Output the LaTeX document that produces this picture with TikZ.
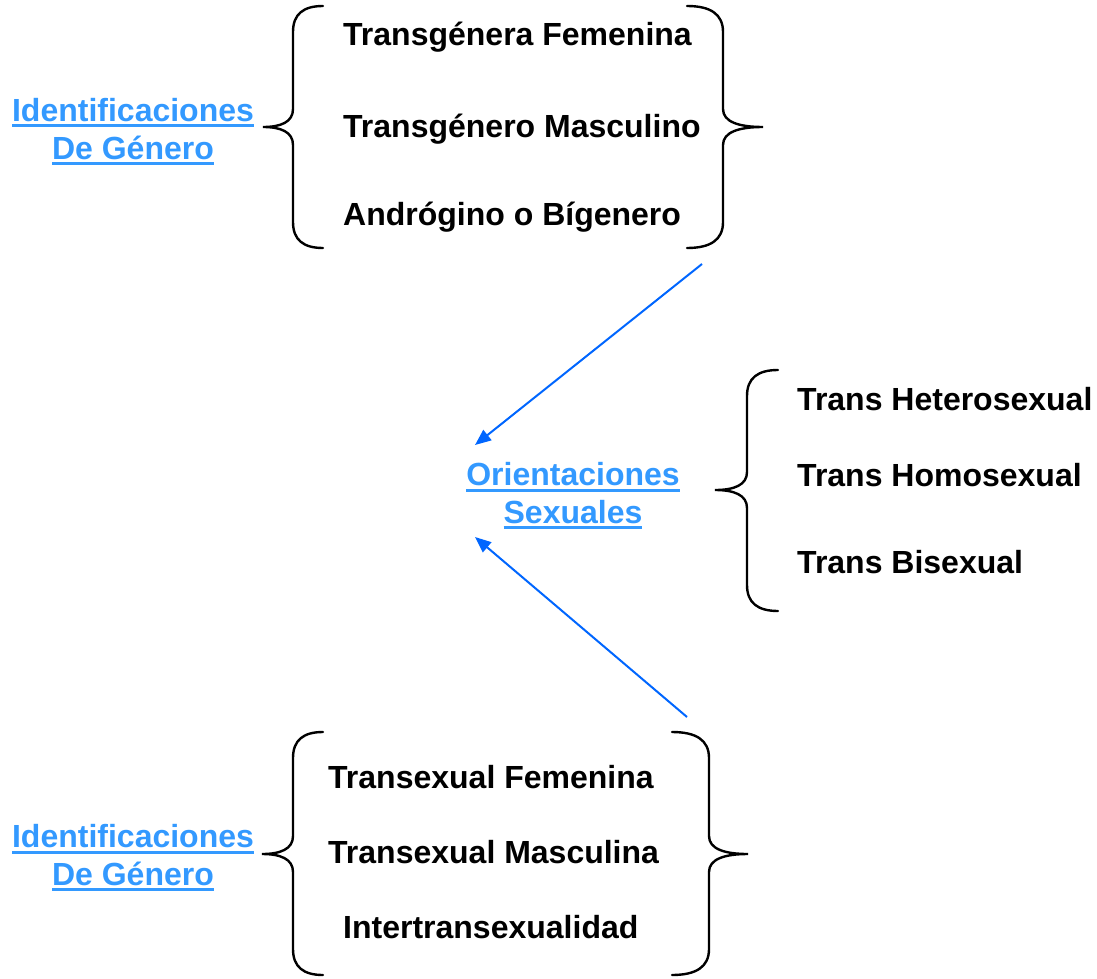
\documentclass[tikz,border=0pt]{standalone}
\usepackage{fontspec}
\setmainfont{Liberation Sans}
\usetikzlibrary{arrows.meta}

\definecolor{labelblue}{RGB}{51,153,255}
\definecolor{arrowblue}{RGB}{0,102,255}

% underline drawn as a rule under the box
\newcommand{\ulbar}[1]{\setbox0\hbox{#1}\rlap{\vrule height -3pt depth 6pt width \wd0}\box0}

% curly bracket: x end, x line, x tip, y top, y tip, y bottom
\newcommand{\bracepath}[6]{%
  \draw[bracestyle] (#1,#4) .. controls ({#2+0.35*(#1-#2)},#4) and (#2,#4+8) .. (#2,#4+26)
    -- (#2,#5-18) .. controls (#2,#5-5) and ({#2+0.4*(#3-#2)},#5) .. (#3,#5)
    .. controls ({#2+0.4*(#3-#2)},#5) and (#2,#5+5) .. (#2,#5+18)
    -- (#2,#6-26) .. controls (#2,#6-8) and ({#2+0.35*(#1-#2)},#6) .. (#1,#6);}

\tikzset{
  item/.style={anchor=base west,inner sep=0pt,font=\fontsize{32}{38}\selectfont\bfseries},
  heading/.style={anchor=base,inner sep=0pt,align=center,text=labelblue,
    font=\fontsize{32}{37.5}\selectfont\bfseries},
  bracestyle/.style={line width=2.4pt,line cap=round},
  link/.style={draw=arrowblue,line width=2pt,-{Triangle[length=16pt,width=13pt]}}
}

\begin{document}
\begin{tikzpicture}[x=1pt,y=-1pt]
  \useasboundingbox (0,0) rectangle (1097,979);

  % upper group
  \node[heading] (idtop) at (133,159) {\ulbar{Identificaciones}\\\ulbar{De Género}};
  \node[item] (tfem) at (343,46) {Transgénera Femenina};
  \node[item] (tmas) at (343,138) {Transgénero Masculino};
  \node[item] (andr) at (343,225) {Andrógino o Bígenero};
  \bracepath{323}{293}{263}{6}{127}{248}
  \bracepath{687}{723}{763}{6}{127}{248}

  % middle group
  \node[heading] (orient) at (573,523) {\ulbar{Orientaciones}\\\ulbar{Sexuales}};
  \node[item] (thet) at (797,410) {Trans Heterosexual};
  \node[item] (thom) at (797,486) {Trans Homosexual};
  \node[item] (tbis) at (797,573) {Trans Bisexual};
  \bracepath{778}{747}{715}{370}{490}{611}

  % lower group
  \node[heading] (idbot) at (133,885) {\ulbar{Identificaciones}\\\ulbar{De Género}};
  \node[item] (sfem) at (328,788) {Transexual Femenina};
  \node[item] (smas) at (328,863) {Transexual Masculina};
  \node[item] (inter) at (343,938) {Intertransexualidad};
  \bracepath{323}{293}{262}{732}{854}{975}
  \bracepath{672}{709}{748}{732}{854}{975}

  % arrows
  \coordinate (fromtop) at (702,264);
  \coordinate (intop) at (475,445);
  \coordinate (frombot) at (687,717);
  \coordinate (inbot) at (475,537);
  \draw[link] (fromtop) -- (intop);
  \draw[link] (frombot) -- (inbot);
\end{tikzpicture}
\end{document}
